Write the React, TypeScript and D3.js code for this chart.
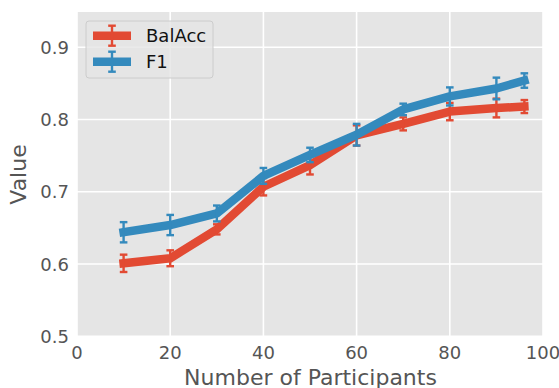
import React from "react";
import * as d3 from "d3";

const participants = [10, 20, 30, 40, 50, 60, 70, 80, 90, 96];
const balAcc = [0.601, 0.608, 0.648, 0.707, 0.737, 0.778, 0.794, 0.811, 0.816, 0.818];
const balAccErr = [0.012, 0.011, 0.007, 0.012, 0.013, 0.014, 0.009, 0.012, 0.013, 0.009];
const f1 = [0.644, 0.654, 0.670, 0.722, 0.751, 0.779, 0.814, 0.832, 0.843, 0.854];
const f1Err = [0.014, 0.014, 0.011, 0.011, 0.01, 0.015, 0.008, 0.0125, 0.015, 0.01];
const xTicks = [0, 20, 40, 60, 80, 100];
const yTicks = [0.5, 0.6, 0.7, 0.8, 0.9];
const seriesNames = ["BalAcc", "F1"];
const seriesColors = ["#E24A33", "#348ABD"];

const W = 559;
const H = 388;
const left = 77;
const right = 543;
const top = 12;
const bottom = 336.3;

export default function App() {
  const x = d3.scaleLinear().domain([0, 100]).range([left, right]);
  const y = d3.scaleLinear().domain([0.5, 0.9]).range([bottom, 47.3]);
  const line = d3
    .line<number>()
    .x((_, i) => x(participants[i]))
    .y((d) => y(d));
  const series = [
    { vals: balAcc, errs: balAccErr },
    { vals: f1, errs: f1Err },
  ];
  const font = "DejaVu Sans, sans-serif";
  const capHalf = 3.8;
  return (
    <svg
      width={W}
      height={H}
      style={{ position: "absolute", left: 0, top: 0, display: "block" }}
      fontFamily={font}
    >
      <rect x={0} y={0} width={W} height={H} fill="#fff" />
      <rect x={left} y={top} width={right - left} height={bottom - top} fill="#E5E5E5" />
      {xTicks.map((t) => (
        <line key={"gx" + t} x1={x(t)} x2={x(t)} y1={top} y2={bottom} stroke="#fff" strokeWidth={1.6} />
      ))}
      {yTicks.map((t) => (
        <line key={"gy" + t} x1={left} x2={right} y1={y(t)} y2={y(t)} stroke="#fff" strokeWidth={1.6} />
      ))}
      {series.map((s, si) => (
        <g key={"s" + si}>
          <path
            d={line(s.vals) || ""}
            fill="none"
            stroke={seriesColors[si]}
            strokeWidth={8.5}
            strokeLinejoin="round"
            strokeLinecap="square"
          />
          {s.vals.map((v, i) => {
            const cx = x(participants[i]);
            const y1 = y(v - s.errs[i]);
            const y2 = y(v + s.errs[i]);
            return (
              <g key={"e" + i} stroke={seriesColors[si]} strokeWidth={2.4}>
                <line x1={cx} x2={cx} y1={y1} y2={y2} />
                <line x1={cx - capHalf} x2={cx + capHalf} y1={y1} y2={y1} />
                <line x1={cx - capHalf} x2={cx + capHalf} y1={y2} y2={y2} />
              </g>
            );
          })}
        </g>
      ))}
      {yTicks.map((t) => (
        <text
          key={"ty" + t}
          x={69}
          y={y(t)}
          dy="0.36em"
          textAnchor="end"
          fontSize={18}
          fill="#555555"
        >
          {t.toFixed(1)}
        </text>
      ))}
      {xTicks.map((t) => (
        <text key={"tx" + t} x={x(t)} y={358.5} textAnchor="middle" fontSize={18} fill="#555555">
          {t}
        </text>
      ))}
      <text x={310.5} y={385} textAnchor="middle" fontSize={22} fill="#555555">
        Number of Participants
      </text>
      <text
        transform={`translate(25.5,174.5) rotate(-90)`}
        textAnchor="middle"
        fontSize={22}
        fill="#555555"
      >
        Value
      </text>
      <rect
        x={86}
        y={21}
        width={127}
        height={57}
        rx={3}
        ry={3}
        fill="#E5E5E5"
        fillOpacity={0.8}
        stroke="#CCCCCC"
        strokeWidth={1}
      />
      {seriesNames.map((n, i) => {
        const ly = 35.7 + i * 26;
        return (
          <g key={"lg" + i}>
            <line x1={93} x2={131} y1={ly} y2={ly} stroke={seriesColors[i]} strokeWidth={8.5} />
            <g stroke={seriesColors[i]} strokeWidth={2.4}>
              <line x1={112} x2={112} y1={ly - 10} y2={ly + 10} />
              <line x1={112 - capHalf} x2={112 + capHalf} y1={ly - 10} y2={ly - 10} />
              <line x1={112 - capHalf} x2={112 + capHalf} y1={ly + 10} y2={ly + 10} />
            </g>
            <text x={146} y={ly + 6.4} fontSize={18} fill="#111">
              {n}
            </text>
          </g>
        );
      })}
    </svg>
  );
}
